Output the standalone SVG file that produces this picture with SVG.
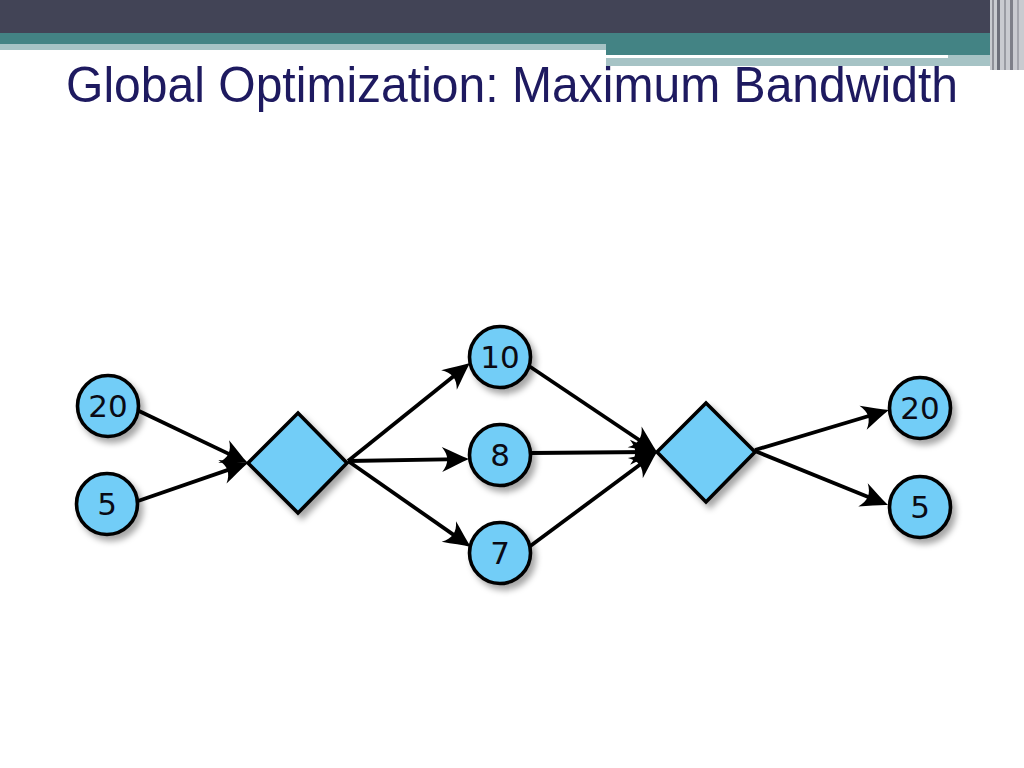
<svg xmlns="http://www.w3.org/2000/svg" width="1024" height="768" viewBox="0 0 1024 768">
<defs>
<filter id="sh" x="-30%" y="-30%" width="160%" height="160%">
<feDropShadow dx="4" dy="5" stdDeviation="3" flood-color="#000" flood-opacity="0.35"/>
</filter>
<marker id="ah" markerUnits="userSpaceOnUse" markerWidth="50" markerHeight="40" viewBox="-25 -20 50 40" refX="0" refY="0" orient="auto" overflow="visible">
<path d="M8,0 C0,-3 -9,-8 -19,-12.5 C-12,-4 -12,4 -19,12.5 C-9,8 0,3 8,0 Z" fill="#000"/>
</marker>
<style>
.n{fill:#72cdf7;stroke:#000;stroke-width:3.6;filter:url(#sh)}
.t{font-family:"DejaVu Sans",sans-serif;font-size:31px;fill:#0a0a14;text-anchor:middle}
.e{stroke:#000;stroke-width:3.8;fill:none;marker-end:url(#ah)}
</style>
</defs>
<rect width="1024" height="768" fill="#fff"/>
<g id="header">
<rect x="0" y="0" width="1024" height="33" fill="#424456"/>
<rect x="0" y="33" width="1024" height="12" fill="#438384"/>
<rect x="0" y="44" width="606" height="6" fill="#a6c3c5"/>
<rect x="606" y="44" width="394" height="11" fill="#438384"/>
<rect x="606" y="55" width="394" height="11" fill="#a6c3c5"/>
<rect x="606" y="55" width="342" height="3" fill="#ffffff"/>
<rect x="990" y="0" width="34" height="70" fill="#c9cbd0"/>
<rect x="992" y="0" width="2" height="70" fill="#8f9098"/>
<rect x="997" y="0" width="3" height="70" fill="#6d6f7a"/>
<rect x="1004" y="0" width="2" height="70" fill="#9a9ca3"/>
<rect x="1010" y="0" width="3" height="70" fill="#7d7f88"/>
<rect x="1017" y="0" width="2" height="70" fill="#a4a6ad"/>
</g>
<text x="66" y="102" font-family="Liberation Sans, Arial, sans-serif" font-size="50" fill="#1e1a60" textLength="892" lengthAdjust="spacingAndGlyphs">Global Optimization: Maximum Bandwidth</text>
<g id="connectors">
<path class="e" d="M139,411 L240.8,459.6"/>
<path class="e" d="M138,501 L240.4,465.6"/>
<path class="e" d="M348,461 L463.8,368"/>
<path class="e" d="M348,461 L461,459.1"/>
<path class="e" d="M348,461 L464.4,542.4"/>
<path class="e" d="M529,366 L650.4,447.5"/>
<path class="e" d="M531,453 L649,452"/>
<path class="e" d="M529,547 L650.6,456.8"/>
<path class="e" d="M755,450 L881.3,412.3"/>
<path class="e" d="M755,451 L880.6,502"/>
</g>
<g id="n20a"><circle class="n" cx="108" cy="406" r="30.5"/><text class="t" x="108" y="417">20</text></g>
<g id="n5a"><circle class="n" cx="107" cy="504" r="30.5"/><text class="t" x="107" y="515">5</text></g>
<g id="d1"><polygon class="n" points="248,463 298,413 347,463 298,513"/></g>
<g id="n10"><circle class="n" cx="500" cy="357" r="30.5"/><text class="t" x="500" y="368">10</text></g>
<g id="n8"><circle class="n" cx="500" cy="455" r="30.5"/><text class="t" x="500" y="466">8</text></g>
<g id="n7"><circle class="n" cx="500" cy="553" r="30.5"/><text class="t" x="500" y="564">7</text></g>
<g id="d2"><polygon class="n" points="657,452 706,403 755,452 706,502"/></g>
<g id="n20b"><circle class="n" cx="920" cy="408" r="30.5"/><text class="t" x="920" y="419">20</text></g>
<g id="n5b"><circle class="n" cx="920" cy="507" r="30.5"/><text class="t" x="920" y="518">5</text></g>
</svg>
